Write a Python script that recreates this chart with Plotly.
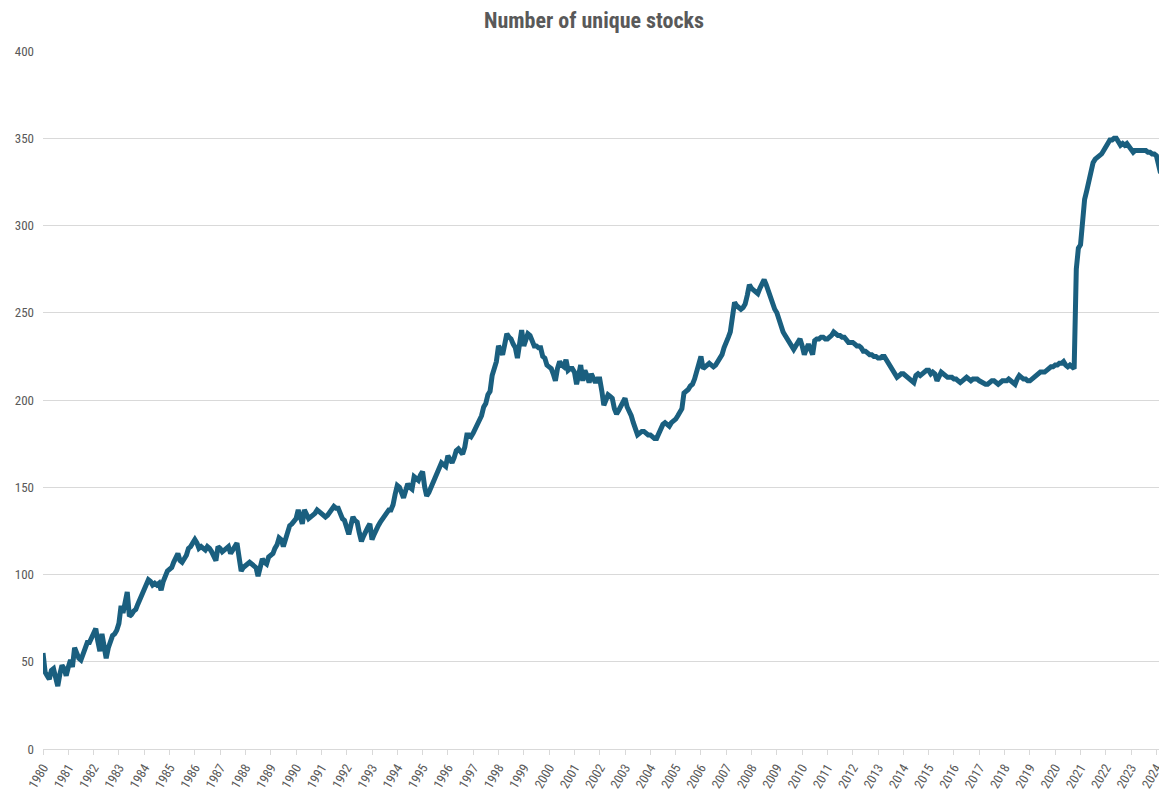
import pandas as pd
import plotly.graph_objects as go

title_text = "Number of unique stocks"
start_month = "1980-01-01"

# Monthly number of unique stocks, Jan 1980 .. Mar 2024 (one row per year)
unique_stocks = [
    55, 44, 42, 40, 45, 46, 41, 36, 43, 48, 46, 42,          # 1980
    47, 51, 47, 58, 55, 52, 51, 55, 58, 61, 61, 64,          # 1981
    67, 69, 62, 56, 66, 60, 52, 58, 62, 65, 66, 68,          # 1982
    72, 82, 78, 84, 90, 76, 77, 79, 80, 83, 86, 90,          # 1983
    93, 95, 97, 96, 94, 95, 94, 95, 91, 96, 100, 102,        # 1984
    103, 104, 107, 110, 112, 108, 107, 109, 111, 115, 116, 118,  # 1985
    120, 118, 115, 116, 115, 114, 116, 115, 113, 110, 108, 116,  # 1986
    115, 113, 114, 115, 116, 112, 114, 116, 118, 110, 102, 104,  # 1987
    105, 106, 107, 106, 105, 104, 99, 103, 109, 107, 106, 110,   # 1988
    111, 112, 115, 117, 121, 120, 116, 120, 125, 128, 129, 131,  # 1989
    132, 137, 134, 129, 137, 134, 132, 133, 134, 135, 137, 136,  # 1990
    135, 134, 133, 134, 136, 138, 139, 138, 138, 135, 132, 131,  # 1991
    127, 123, 128, 133, 131, 130, 124, 119, 122, 125, 127, 129,  # 1992
    120, 123, 126, 128, 130, 132, 134, 136, 137, 137, 140, 146,  # 1993
    151, 150, 147, 144, 148, 152, 150, 149, 156, 155, 154, 157,  # 1994
    159, 150, 145, 147, 150, 153, 155, 158, 162, 164, 163, 162,  # 1995
    168, 166, 164, 167, 171, 172, 170, 169, 173, 180, 180, 179,  # 1996
    181, 184, 186, 189, 191, 196, 198, 203, 205, 214, 219, 222,  # 1997
    231, 228, 226, 232, 238, 236, 235, 232, 230, 224, 232, 240,  # 1998
    231, 236, 238, 237, 234, 231, 231, 230, 230, 225, 224, 220,  # 1999
    219, 218, 215, 211, 218, 222, 220, 219, 223, 217, 218, 218,  # 2000
    216, 209, 214, 220, 211, 217, 214, 210, 215, 213, 210, 212,  # 2001
    212, 205, 197, 200, 203, 202, 201, 195, 192, 194, 196, 199,  # 2002
    201, 196, 194, 191, 187, 183, 180, 181, 182, 182, 181, 180,  # 2003
    180, 179, 178, 178, 181, 184, 186, 187, 186, 185, 187, 188,  # 2004
    189, 191, 193, 195, 204, 205, 206, 208, 209, 212, 217, 220,  # 2005
    225, 218, 219, 220, 221, 220, 219, 220, 222, 224, 226, 230,  # 2006
    234, 236, 239, 247, 256, 254, 253, 252, 253, 255, 260, 266,  # 2007
    264, 263, 262, 261, 264, 267, 269, 266, 262, 259, 256, 252,  # 2008
    250, 246, 241, 239, 237, 235, 233, 230, 229, 231, 233, 235,  # 2009
    231, 226, 229, 232, 229, 226, 234, 235, 235, 236, 236, 235,  # 2010
    235, 236, 237, 239, 238, 237, 237, 236, 236, 234, 233, 233,  # 2011
    233, 232, 231, 231, 230, 228, 228, 227, 226, 226, 225, 225,  # 2012
    224, 224, 225, 225, 223, 221, 219, 217, 216, 213, 214, 215,  # 2013
    215, 214, 213, 212, 211, 210, 214, 215, 214, 215, 216, 217,  # 2014
    217, 215, 216, 215, 211, 213, 216, 215, 214, 213, 213, 213,  # 2015
    212, 212, 211, 210, 211, 212, 213, 212, 211, 212, 212, 212,  # 2016
    211, 210, 210, 209, 209, 210, 211, 211, 210, 209, 210, 211,  # 2017
    211, 211, 212, 211, 210, 209, 212, 214, 213, 212, 212, 211,  # 2018
    211, 212, 213, 214, 215, 216, 216, 216, 217, 218, 219, 219,  # 2019
    220, 220, 221, 221, 222, 220, 219, 220, 219, 218, 275, 287,  # 2020
    289, 302, 315, 320, 326, 332, 336, 338, 339, 340, 341, 343,  # 2021
    345, 347, 349, 349, 350, 350, 348, 346, 347, 346, 347, 345,  # 2022
    344, 342, 343, 343, 343, 343, 343, 343, 342, 342, 341, 341,  # 2023
    340, 336, 330,                                               # 2024
]

year_labels = [str(y) for y in range(1980, 2025)]
y_tick_values = [0, 50, 100, 150, 200, 250, 300, 350, 400]

dates = pd.date_range(start=start_month, periods=len(unique_stocks), freq="MS")
year_ticks = [pd.Timestamp(f"{y}-01-01") for y in year_labels]

line_color = "#1a5f7f"
text_color = "#595959"
grid_color = "#d9d9d9"
font_family = "Liberation Sans Narrow, Arial Narrow, Roboto Condensed, Liberation Sans, sans-serif"

fig = go.Figure()
fig.add_trace(go.Scatter(
    x=dates, y=unique_stocks, mode="lines",
    line=dict(color=line_color, width=5),
    hoverinfo="x+y", showlegend=False,
))

# page body has an 8px margin, so the figure is sized to fit the 1167x790 window
fig.update_layout(
    width=1159, height=782,
    margin=dict(l=35, r=5, t=43, b=41, autoexpand=False),
    paper_bgcolor="white", plot_bgcolor="white",
    font=dict(family=font_family, color=text_color, size=13),
    title=dict(text=f"<b>{title_text}</b>", x=0.5056, xanchor="center",
               y=0.984, yanchor="middle",
               font=dict(family=font_family, size=22, color=text_color)),
)
fig.update_xaxes(
    range=[pd.Timestamp("1980-01-01"), pd.Timestamp("2024-03-22")],
    tickmode="array", tickvals=year_ticks, ticktext=year_labels,
    tickangle=-60, ticks="outside", ticklen=5, tickcolor=grid_color,
    showgrid=False, showline=True, linecolor=grid_color, linewidth=1,
    zeroline=False, tickfont=dict(size=13, color=text_color),
)
fig.update_yaxes(
    range=[0, 400], tickmode="array", tickvals=y_tick_values,
    showgrid=True, gridcolor=grid_color, gridwidth=1,
    zeroline=False, showline=False, ticks="", ticklabelstandoff=8,
    tickfont=dict(size=13, color=text_color),
)

fig.write_html("out.html")
